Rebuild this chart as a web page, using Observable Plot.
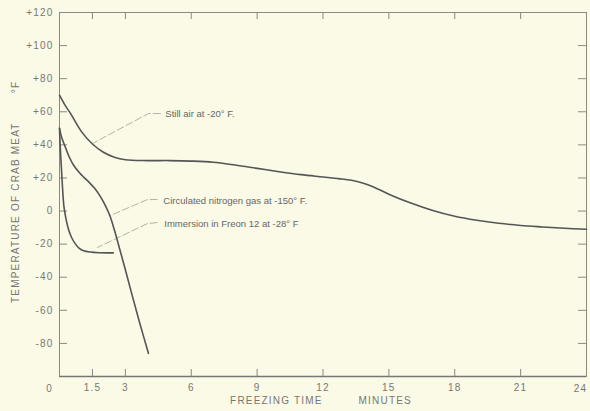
<!DOCTYPE html>
<html>
<head>
<meta charset="utf-8">
<script src="https://cdn.jsdelivr.net/npm/d3@7"></script>
<script src="https://cdn.jsdelivr.net/npm/@observablehq/plot@0.6"></script>
<style>
  html, body { margin: 0; padding: 0; background: #fafae6; }
  #chart { width: 590px; height: 411px; }
</style>
</head>
<body>
<div id="chart"></div>
<script>
// Time (minutes), temperature (°F)
const stillAir = [
  [0, 70], [0.25, 64], [0.5, 59], [1, 48], [1.5, 40.5], [2, 35.5], [2.5, 32.5],
  [3, 31], [4, 30.5], [5, 30.5], [6, 30.2], [7, 29.5], [8, 27.8], [9, 25.8],
  [10, 23.8], [11, 22], [12, 20.6], [12.7, 19.6], [13.3, 18.6], [13.8, 17], [14.3, 14.6],
  [15, 10.2], [16, 4.8], [17, 0.3], [18, -3.2], [19, -5.6], [20, -7.4], [21, -8.7],
  [22, -9.6], [23, -10.4], [24, -11]
];
const nitrogen = [
  [0, 50], [0.1, 44.5], [0.27, 38.5], [0.45, 32.5], [0.65, 27.5], [0.9, 23.3], [1.1, 20.5],
  [1.35, 17.3], [1.6, 13.8], [1.85, 9], [2.1, 3], [2.3, -3], [2.5, -11.5], [2.7, -21],
  [3, -35.5], [3.3, -50.5], [3.65, -67.5], [4.05, -86]
];
const freon = [
  [0, 50], [0.03, 40], [0.07, 30], [0.12, 18], [0.2, 3], [0.3, -5], [0.42, -11.5],
  [0.55, -16], [0.73, -20], [0.9, -22.5], [1.1, -24], [1.4, -24.8], [1.8, -25.2], [2.45, -25.3]
];

const xTicks = [1.5, 3, 6, 9, 12, 15, 18, 21, 24];
const yTicks = [-80, -60, -40, -20, 0, 20, 40, 60, 80, 100, 120];

const labelText = ["Still air at -20° F.", "Circulated nitrogen gas at -150° F.", "Immersion in Freon 12 at -28° F"];
const labelPos = [[4.82, 58.9], [4.73, 6.3], [4.77, -7.6]];
const leaders = [
  [[4.59, 58.9], [4.05, 58.9], [1.5, 40.8]],
  [[4.45, 6.95], [4.0, 6.95], [2.32, -2.7]],
  [[4.45, -6.95], [4.0, -7.6], [1.73, -22]]
];

const W = 590, H = 411, mT = 12, mB = 35, mL = 59, mR = 4;
const pw = W - mL - mR, ph = H - mT - mB;
const lineColor = "#555";
const axisColor = "#8a8a80";

const chart = Plot.plot({
  width: W, height: H,
  marginTop: mT, marginBottom: mB, marginLeft: mL, marginRight: mR,
  x: { domain: [0, 24] },
  y: { domain: [-100, 120] },
  style: { background: "#fafae6", fontFamily: "Liberation Sans, Arial, sans-serif", fontSize: "10px", color: "#777", overflow: "visible" },
  marks: [
    Plot.frame({ stroke: axisColor, strokeWidth: 1 }),
    Plot.ruleY([-100], { stroke: "#777", strokeWidth: 1.5 }),
    // inward ticks
    Plot.tickY(yTicks, { y: d => d, insetRight: pw - 8, stroke: axisColor }),
    Plot.tickY(yTicks, { y: d => d, insetLeft: pw - 8, stroke: axisColor }),
    Plot.tickX(xTicks.filter(d => d < 24), { x: d => d, insetTop: ph - 7, stroke: axisColor }),
    Plot.tickX(xTicks.filter(d => d < 24), { x: d => d, insetBottom: ph - 7, stroke: axisColor }),
    Plot.axisY({ ticks: yTicks, tickSize: 0, tickPadding: 6, label: null, fill: "#777",
      tickFormat: d => d > 0 ? "+" + d : String(d) }),
    Plot.axisX({ ticks: xTicks.filter(d => d < 24), tickSize: 0, tickPadding: 7, label: null, fill: "#777",
      tickFormat: d => String(d) }),
    Plot.text([0], { x: d => d, y: -100, dx: -10, dy: 12, fill: "#777", fontSize: 10 }),
    Plot.text([24], { x: d => d, y: -100, dx: -6, dy: 12, fill: "#777", fontSize: 10 }),
    // axis titles
    Plot.text(["TEMPERATURE OF CRAB MEAT"], { x: 0, y: -1, dx: -44, rotate: -90, fill: "#777", fontSize: 10 }),
    Plot.text(["°F"], { x: 0, y: 75, dx: -44, rotate: -90, fill: "#777", fontSize: 10 }),
    Plot.text(["FREEZING TIME\u00a0\u00a0\u00a0\u00a0\u00a0\u00a0\u00a0\u00a0\u00a0MINUTES"], { frameAnchor: "bottom", dy: 27, dx: -2, fill: "#777", fontSize: 10 }),
    // leader lines
    ...leaders.map(l => Plot.line(l, { x: d => d[0], y: d => d[1], stroke: "#a0a098", strokeWidth: 0.8, strokeDasharray: "7,3" })),
    Plot.text(labelText, { x: (d, i) => labelPos[i][0], y: (d, i) => labelPos[i][1], textAnchor: "start", fill: "#666", fontSize: 9.5 }),
    // curves
    Plot.line(stillAir, { x: d => d[0], y: d => d[1], curve: "catmull-rom", stroke: lineColor, strokeWidth: 1.6 }),
    Plot.line(nitrogen, { x: d => d[0], y: d => d[1], curve: "catmull-rom", stroke: lineColor, strokeWidth: 1.6 }),
    Plot.line(freon, { x: d => d[0], y: d => d[1], curve: "catmull-rom", stroke: lineColor, strokeWidth: 1.6 })
  ]
});

// letter spacing for axis labels and titles (not the annotations)
d3.select(chart).selectAll("text").each(function () {
  const t = this.textContent;
  if (!labelText.includes(t)) this.setAttribute("letter-spacing", "1.2");
});

document.getElementById("chart").appendChild(chart);
</script>
</body>
</html>
